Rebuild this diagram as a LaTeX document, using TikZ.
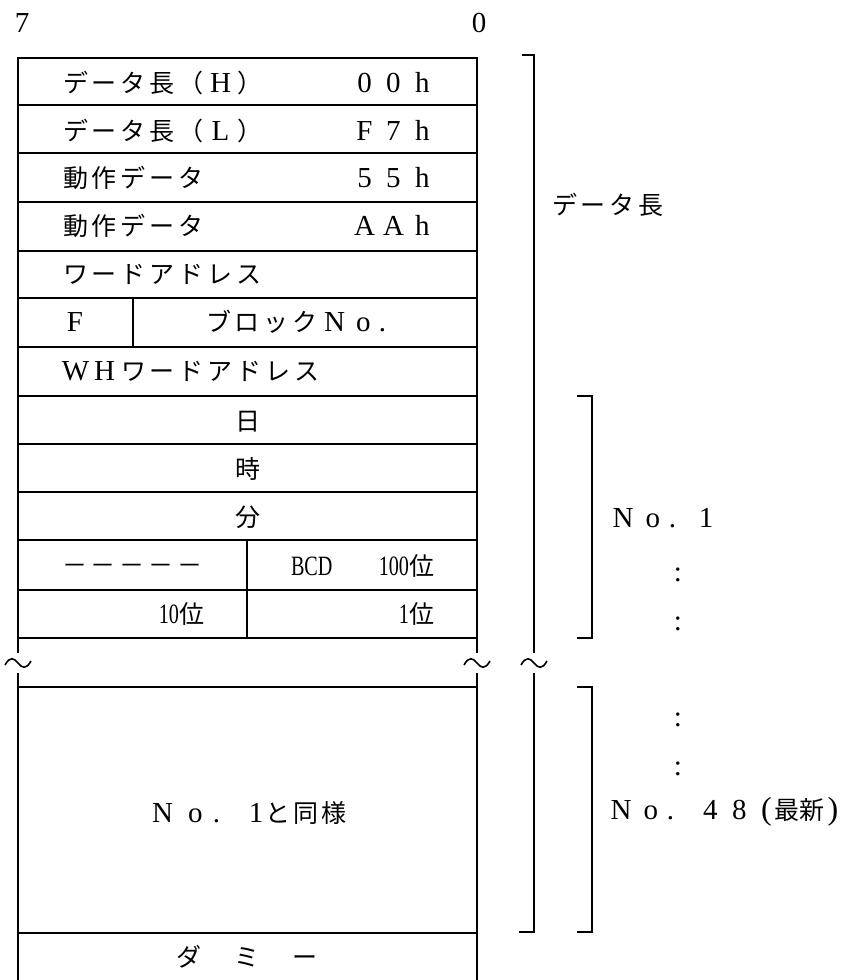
\documentclass[tikz,border=0pt]{standalone}
\usepackage{fontspec}
\usepackage{graphicx}
\newfontfamily\jpf{Noto Sans CJK JP}
\newfontfamily\latf{Liberation Serif}
\newcommand\jps{\jpf\fontsize{25}{30}\selectfont}
\newcommand\lts{\latf\fontsize{29}{30}\selectfont}
\newcommand\hwt[1]{\scalebox{0.72}[1]{\latf\fontsize{28}{30}\selectfont #1}}
\newlength\cw
\makeatletter
\newcommand\ptch[2]{\setlength\cw{#1}\@tfor\pt@x:=#2\do{\makebox[\cw][c]{\pt@x}}}
\makeatother
\newcommand\dotl{\makebox[\cw][l]{\hspace{1pt}.}}
\begin{document}
\begin{tikzpicture}[x=1pt,y=-1pt,
  lbl/.style={inner sep=0pt, outer sep=0pt, text height=18.5pt, text depth=0pt},
  boxline/.style={line width=2pt},
  brk/.style={line width=1.5pt},
  tld/.style={line width=1.6pt}]
\useasboundingbox (0,0) rectangle (849,980);
% frame rows
\foreach \yy in {58,105,153,202,251,298,347,396,444,492,540,590,638,687,933}
  \draw[boxline] (18,\yy) -- (477,\yy);
\draw[boxline] (18,57) -- (18,653);
\draw[boxline] (477,57) -- (477,653);
\draw[boxline] (18,673) -- (18,981);
\draw[boxline] (477,673) -- (477,981);
\draw[boxline] (133,298) -- (133,347);
\draw[boxline] (247,540) -- (247,638);
% brackets
\draw[brk] (522,55) -- (534,55) -- (534,653);
\draw[brk] (534,673) -- (534,932) -- (519,932);
\draw[brk] (577,396) -- (592,396) -- (592,638) -- (577,638);
\draw[brk] (577,687) -- (592,687) -- (592,932) -- (577,932);
% tildes
\foreach \xx in {18,477,534}
  \draw[tld] (\xx-13,665) .. controls (\xx-8,656) and (\xx-4,658) .. (\xx,663)
             .. controls (\xx+4,668) and (\xx+8,670) .. (\xx+13,661);
% top bit labels
\node[lbl] (b7) at (22,23) {\lts 7};
\node[lbl] (b0) at (479,23) {\lts 0};
% rows
\node[lbl,anchor=west] (r1a) at (61,83.5) {\jps\ptch{29pt}{データ長（{\lts H}）}};
\node[lbl,anchor=east] (r1b) at (437,83.5) {\lts\ptch{29pt}{00h}};
\node[lbl,anchor=west] (r2a) at (61,131.5) {\jps\ptch{29pt}{データ長（{\lts L}）}};
\node[lbl,anchor=east] (r2b) at (437,131.5) {\lts\ptch{29pt}{F7h}};
\node[lbl,anchor=west] (r3a) at (61,178.5) {\jps\ptch{29pt}{動作データ}};
\node[lbl,anchor=east] (r3b) at (437,178.5) {\lts\ptch{29pt}{55h}};
\node[lbl,anchor=west] (r4a) at (61,226.5) {\jps\ptch{29pt}{動作データ}};
\node[lbl,anchor=east] (r4b) at (437,226.5) {\lts\ptch{29pt}{AAh}};
\node[lbl,anchor=west] (r5) at (61,274.5) {\jps\ptch{29pt}{ワードアドレス}};
\node[lbl] (r6a) at (75,322.5) {\lts F};
\node[lbl,anchor=west] (r6b) at (204,322.5) {\jps\ptch{29pt}{ブロック{\lts N}{\lts o}{\lts\dotl}}};
\node[lbl,anchor=west] (r7) at (61,371.5) {\jps\ptch{29pt}{{\lts W}{\lts H}ワードアドレス}};
\node[lbl] (r8) at (248,421) {\jps 日};
\node[lbl] (r9) at (248,469) {\jps 時};
\node[lbl] (r10) at (248,517) {\jps 分};
\node[lbl,anchor=west] (r11a) at (60,565) {\jps\ptch{29pt}{－－－－－}};
\node[lbl,anchor=west] (r11b) at (291,566) {\hwt{BCD}};
\node[lbl,anchor=east] (r11c) at (434,566) {\hwt{100}{\jps 位}};
\node[lbl,anchor=east] (r12a) at (204,614) {\hwt{10}{\jps 位}};
\node[lbl,anchor=east] (r12b) at (434,614) {\hwt{1}{\jps 位}};
\node[lbl,anchor=west] (same) at (146,813) {\lts\ptch{33pt}{No\dotl}\hspace{4pt}1{\jps\ptch{28pt}{と同様}}};
\node[lbl] (dummy) at (247,957) {\jps\ptch{58pt}{ダミー}};
% right labels
\node[lbl,anchor=west] (dlen) at (550,205) {\jps\ptch{29pt}{データ長}};
\node[lbl,anchor=west] (no1) at (608,518) {\lts\ptch{30pt}{No\dotl}\makebox[30pt][l]{\hspace{1pt}1}};
\node[lbl] (c1) at (678,572) {\lts :};
\node[lbl] (c2) at (678,621) {\lts :};
\node[lbl] (c3) at (678,717) {\lts :};
\node[lbl] (c4) at (678,766) {\lts :};
\node[lbl,anchor=west] (no48) at (606,810) {\lts\ptch{30pt}{No\dotl}\ptch{29pt}{48}\hspace{7pt}{\fontsize{32}{32}\selectfont(}\hspace{3pt}{\jps 最新}\hspace{3pt}{\fontsize{32}{32}\selectfont)}};
\end{tikzpicture}
\end{document}
